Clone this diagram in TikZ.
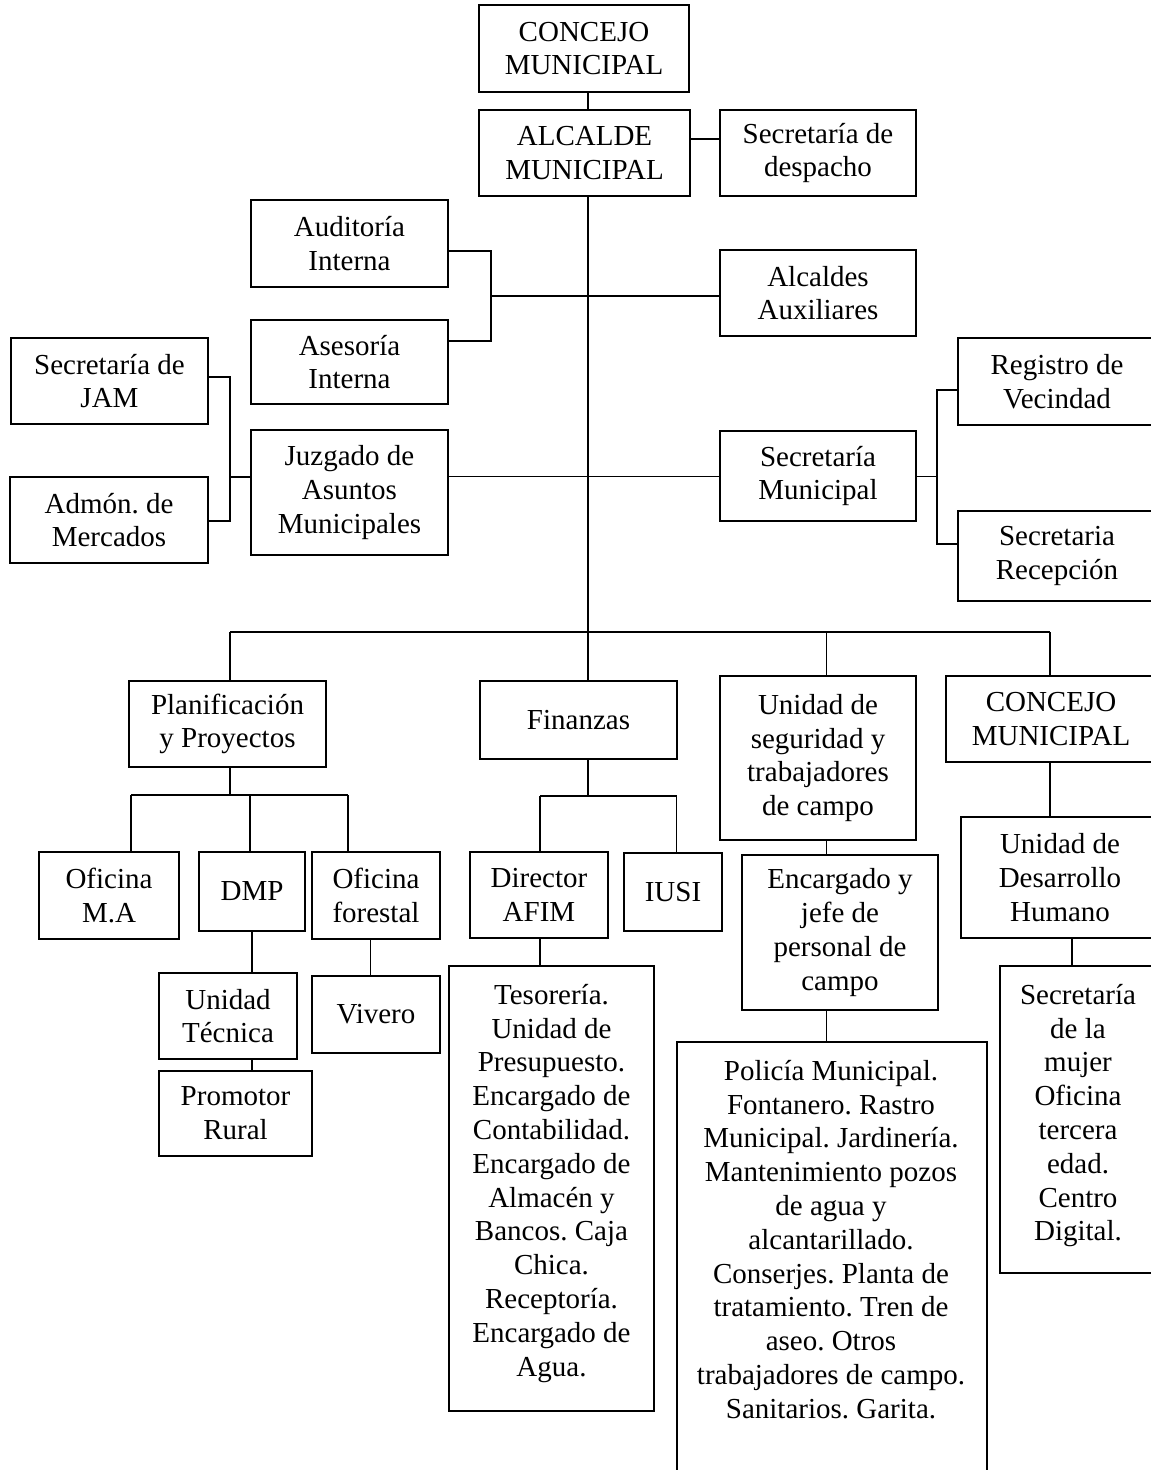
\documentclass[tikz,border=0pt]{standalone}
\usepackage{fontspec}
\setmainfont{Liberation Serif}
\frenchspacing
\newcommand{\orgfont}{\fontsize{29}{33.8}\selectfont}
\begin{document}
\begin{tikzpicture}[x=1pt,y=-1pt,
  box/.style={draw, line width=1.7pt, inner sep=0pt, align=center, font=\orgfont},
  txt/.style={inner sep=0pt, align=center, font=\orgfont},
  conn/.style={line width=1.7pt}]
\useasboundingbox[fill=white] (0,0) rectangle (1151,1470);
% top
\node[box, minimum width=210pt, minimum height=87pt] (c1) at (584,48.5) {CONCEJO\\MUNICIPAL};
\node[box, minimum width=211pt, minimum height=86pt] (alc) at (584.5,153) {ALCALDE\\MUNICIPAL};
\node[box, minimum width=196pt, minimum height=86pt] (sd) at (818,153) {Secretaría de\\despacho};
\node[box, minimum width=197pt, minimum height=87pt] (aud) at (349.5,243.5) {Auditoría\\Interna};
\node[box, minimum width=197pt, minimum height=84pt] (ase) at (349.5,362) {Asesoría\\Interna};
\node[box, minimum width=196pt, minimum height=86pt] (aa) at (818,293) {Alcaldes\\Auxiliares};
\node[box, minimum width=197pt, minimum height=86pt] (jam) at (109.5,381) {Secretaría de\\JAM};
\node[box, minimum width=198pt, minimum height=86pt] (adm) at (109,520) {Admón. de\\Mercados};
\node[box, minimum width=197pt, minimum height=125pt] (juz) at (349.5,492.5) {Juzgado de\\Asuntos\\Municipales};
\node[box, minimum width=196pt, minimum height=90pt] (sm) at (818,476) {Secretaría\\Municipal};
\node[box, minimum width=198pt, minimum height=87pt] (reg) at (1057,381.5) {Registro de\\Vecindad};
\node[box, minimum width=198pt, minimum height=90pt] (rec) at (1057,556) {Secretaria\\Recepción};
% second level
\node[box, minimum width=197pt, minimum height=86pt] (plan) at (227.5,724) {Planificación\\y Proyectos};
\node[box, minimum width=197pt, minimum height=78pt] (fin) at (578.5,720) {Finanzas};
\node[box, minimum width=196pt, minimum height=164pt] (useg) at (818,758) {Unidad de\\seguridad y\\trabajadores\\de campo};
\node[box, minimum width=210pt, minimum height=86pt] (c2) at (1051,719) {CONCEJO\\MUNICIPAL};
% third level
\node[box, minimum width=140pt, minimum height=87pt] (oma) at (109,895.5) {Oficina\\M.A};
\node[box, minimum width=106pt, minimum height=79pt] (dmp) at (252,891.5) {DMP};
\node[box, minimum width=128pt, minimum height=87pt] (ofo) at (376,895.5) {Oficina\\forestal};
\node[box, minimum width=138pt, minimum height=86pt] (dir) at (539,895) {Director\\AFIM};
\node[box, minimum width=98pt, minimum height=78pt] (iusi) at (673,892) {IUSI};
\node[box, minimum width=196pt, minimum height=155pt] (enc) at (840,932.5) {Encargado y\\jefe de\\personal de\\campo};
\node[box, minimum width=198pt, minimum height=121pt] (udh) at (1060,877.5) {Unidad de\\Desarrollo\\Humano};
% fourth level
\node[box, minimum width=138pt, minimum height=86pt] (ut) at (228,1016) {Unidad\\Técnica};
\node[box, minimum width=128pt, minimum height=77pt] (viv) at (376,1014.5) {Vivero};
\node[box, minimum width=153pt, minimum height=85pt] (prom) at (235.5,1113.5) {Promotor\\Rural};
\node[box, minimum width=205pt, minimum height=445pt] (tes) at (551.5,1188.5) {};
\node[txt, anchor=north] (test) at (551.5,984) {Tesorería.\\Unidad de\\Presupuesto.\\Encargado de\\Contabilidad.\\Encargado de\\Almacén y\\Bancos. Caja\\Chica.\\Receptoría.\\Encargado de\\Agua.};
\node[box, minimum width=310pt, minimum height=458pt] (pol) at (832,1271) {};
\node[txt, anchor=north] (polt) at (831,1060) {Policía Municipal.\\Fontanero. Rastro\\Municipal. Jardinería.\\Mantenimiento pozos\\de agua y\\alcantarillado.\\Conserjes. Planta de\\tratamiento. Tren de\\aseo. Otros\\trabajadores de campo.\\Sanitarios. Garita.};
\node[box, minimum width=156pt, minimum height=307pt] (muj) at (1078,1119.5) {};
\node[txt, anchor=north] (mujt) at (1078,984) {Secretaría\\de la\\mujer\\Oficina\\tercera\\edad.\\Centro\\Digital.};
% coordinates
\coordinate (sp) at (588,0);
\coordinate (ysd) at (0,139);
\coordinate (a1) at (491,251);
\coordinate (a2) at (491,341);
\coordinate (ba) at (491,296);
\coordinate (j1) at (230,377);
\coordinate (j2) at (230,521);
\coordinate (jj) at (230,477);
\coordinate (jm) at (588,476.5);
\coordinate (s1) at (937,390);
\coordinate (s2) at (937,544);
\coordinate (s0) at (937,476.5);
\coordinate (bus) at (588,632);
\coordinate (bl) at (230,632);
\coordinate (bu) at (826.5,632);
\coordinate (br) at (1050,632);
\coordinate (p0) at (230,795);
\coordinate (p1) at (131,795);
\coordinate (p2) at (250,795);
\coordinate (p3) at (348,795);
\coordinate (v0) at (370.5,0);
\coordinate (f0) at (588,796);
\coordinate (f1) at (540,796);
\coordinate (f2) at (676.5,796);
\coordinate (m0) at (1072,0);
% connectors
\draw[conn] (c1.south -| sp) -- (alc.north -| sp);
\draw[conn] (alc.east |- ysd) -- (sd.west |- ysd);
\draw[conn] (alc.south -| sp) -- (bus);
\draw[conn] (aud.east |- a1) -- (a1) -- (a2) -- (ase.east |- a2);
\draw[conn] (ba) -- (aa.west |- ba);
\draw[conn] (jam.east |- j1) -- (j1) -- (j2) -- (adm.east |- j2);
\draw[conn] (jj) -- (juz.west |- jj);
\draw[conn] (juz.east |- jm) -- (sm.west |- jm);
\draw[conn] (reg.west |- s1) -- (s1) -- (s2) -- (rec.west |- s2);
\draw[conn] (sm.east |- s0) -- (s0);
\draw[conn] (bl) -- (br);
\draw[conn] (bl) -- (plan.north -| bl);
\draw[conn] (bus) -- (fin.north -| bus);
\draw[conn] (bu) -- (useg.north -| bu);
\draw[conn] (br) -- (c2.north -| br);
\draw[conn] (plan.south -| p0) -- (p0);
\draw[conn] (p1) -- (p3);
\draw[conn] (p1) -- (oma.north -| p1);
\draw[conn] (p2) -- (dmp.north -| p2);
\draw[conn] (p3) -- (ofo.north -| p3);
\draw[conn] (dmp.south) -- (ut.north -| dmp.south);
\draw[conn] (ut.south -| dmp.south) -- (prom.north -| dmp.south);
\draw[conn] (ofo.south -| v0) -- (viv.north -| v0);
\draw[conn] (fin.south -| f0) -- (f0);
\draw[conn] (f1) -- (f2);
\draw[conn] (f1) -- (dir.north -| f1);
\draw[conn] (f2) -- (iusi.north -| f2);
\draw[conn] (dir.south -| f1) -- (tes.north -| f1);
\draw[conn] (useg.south -| bu) -- (enc.north -| bu);
\draw[conn] (enc.south -| bu) -- (pol.north -| bu);
\draw[conn] (c2.south -| br) -- (udh.north -| br);
\draw[conn] (udh.south -| m0) -- (muj.north -| m0);
\end{tikzpicture}
\end{document}
